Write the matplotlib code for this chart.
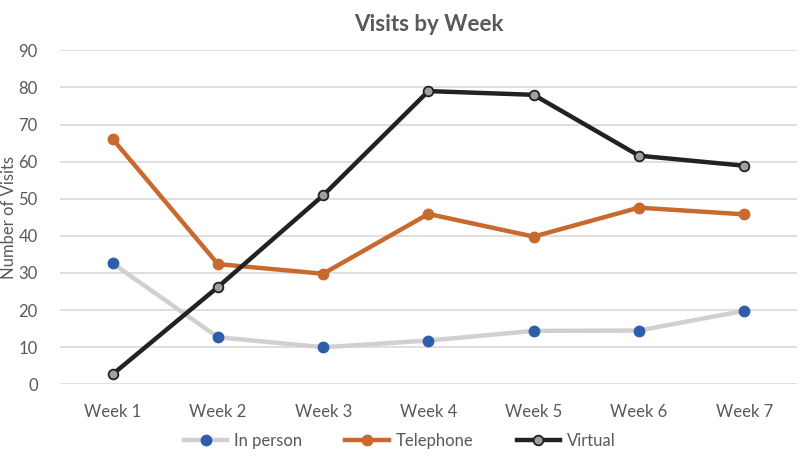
import matplotlib.pyplot as plt

weeks = ['Week 1', 'Week 2', 'Week 3', 'Week 4', 'Week 5', 'Week 6', 'Week 7']
in_person = [32.6, 12.7, 10, 11.8, 14.4, 14.5, 19.8]
telephone = [66.1, 32.4, 29.8, 45.9, 39.8, 47.6, 45.8]
virtual = [2.7, 26.2, 50.9, 79, 78, 61.6, 58.9]

plt.rcParams['font.family'] = ['Lato', 'DejaVu Sans']
txt = '#595959'

fig = plt.figure(figsize=(8, 4.57), dpi=100)
ax = fig.add_axes([0.075, 0.159, 0.921, 0.731])

x = range(len(weeks))
ax.plot(x, in_person, color='#d0d0d0', lw=3.2, marker='o', ms=7.5,
        mfc='#2e5eaa', mec='#2e5eaa', label='In person', zorder=3)
ax.plot(x, telephone, color='#c8692e', lw=3.2, marker='o', ms=7.5,
        mfc='#c8692e', mec='#c8692e', label='Telephone', zorder=3)
ax.plot(x, virtual, color='#222222', lw=3.2, marker='o', ms=7,
        mfc='#a0a0a0', mec='#222222', mew=1.3, label='Virtual', zorder=4)

ax.set_xlim(-0.5, len(weeks) - 0.5)
ax.set_ylim(0, 90)
ax.set_yticks(range(0, 91, 10))
ax.set_xticks(list(x))
ax.set_xticklabels(weeks)
ax.yaxis.grid(True, color='#d9d9d9', lw=1.2)
ax.set_axisbelow(True)
for s in ax.spines.values():
    s.set_visible(False)
ax.tick_params(length=0, labelsize=12, colors=txt)
ax.tick_params(axis='x', pad=14)
ax.tick_params(axis='y', pad=16)

ax.set_ylabel('Number of Visits', fontsize=12, color=txt)
ax.yaxis.set_label_coords(-0.058, 0.5)
ax.set_title('Visits by Week', fontsize=16, fontweight='bold', color=txt, pad=14)

ax.legend(loc='center', bbox_to_anchor=(0.461, -0.17), ncol=3, frameon=False,
          fontsize=12, handlelength=2.6, handletextpad=0.4,
          columnspacing=2.6, labelcolor=txt)

fig.savefig('out.png', dpi=100)
